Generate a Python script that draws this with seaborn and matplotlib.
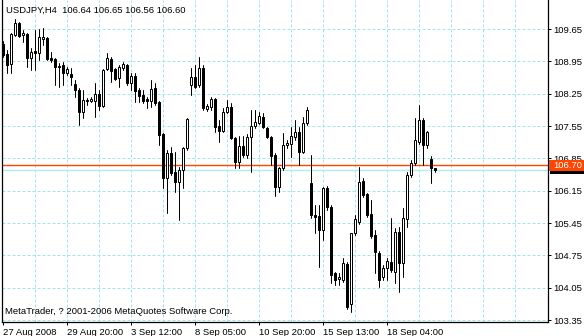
import numpy as np
import pandas as pd
import matplotlib
matplotlib.use("Agg")
import matplotlib.pyplot as plt
import matplotlib.transforms as mtransforms
from matplotlib.patches import Rectangle
import seaborn as sns

# ---- data (USDJPY, H4) ----
opens = [109.33, 109.11, 108.89, 109.52, 109.78, 109.52, 109.54, 109.02, 109.17, 109.13,
         109.43, 109.46, 109.02, 109.00, 108.85, 108.87, 108.70, 108.68, 108.46, 108.33,
         107.86, 108.11, 108.09, 108.09, 108.24, 107.98, 108.78, 109.00, 108.78, 108.59,
         108.81, 108.87, 108.48, 108.63, 108.33, 108.22, 108.13, 108.09, 108.37, 108.07,
         107.38, 106.42, 106.96, 106.55, 106.34, 106.60, 107.07, 108.44, 108.61, 108.44,
         108.81, 107.92, 107.96, 108.13, 107.55, 107.44, 107.86, 107.96, 107.29, 106.77,
         107.12, 106.92, 107.31, 107.55, 107.62, 107.75, 107.51, 107.31, 106.92, 106.23,
         106.64, 107.14, 107.16, 107.31, 107.42, 106.99, 107.62, 106.32, 105.62, 105.60,
         105.30, 106.21, 105.80, 104.37, 104.24, 104.22, 104.56, 103.70, 105.23, 105.47,
         106.36, 106.08, 105.65, 105.19, 104.80, 104.28, 104.48, 104.60, 104.39, 105.25,
         104.58, 105.54, 106.49, 106.75, 107.20, 107.68, 107.14, 106.84, 106.64]
highs = [109.39, 109.20, 109.56, 109.87, 109.80, 109.63, 109.56, 109.24, 109.63, 109.65,
         109.67, 109.48, 109.15, 109.02, 108.91, 108.94, 108.83, 108.81, 108.55, 108.37,
         108.33, 108.16, 108.18, 108.48, 108.33, 108.78, 109.13, 109.04, 108.81, 108.87,
         108.94, 108.89, 108.70, 108.70, 108.37, 108.33, 108.18, 108.55, 108.48, 108.09,
         107.40, 107.03, 107.09, 106.99, 106.66, 107.09, 107.72, 108.81, 108.87, 109.04,
         108.87, 108.03, 108.18, 108.16, 107.68, 107.94, 108.11, 108.05, 107.31, 107.33,
         107.33, 107.38, 107.90, 107.90, 107.86, 107.83, 107.53, 107.33, 106.96, 106.66,
         107.40, 107.25, 107.53, 107.68, 107.53, 107.75, 107.96, 106.92, 105.84, 105.84,
         106.23, 106.25, 105.84, 104.39, 104.37, 104.69, 104.60, 105.23, 105.62, 106.66,
         106.42, 106.10, 105.95, 105.30, 104.84, 104.54, 104.69, 105.56, 105.34, 105.36,
         105.77, 106.55, 106.81, 107.72, 108.00, 107.72, 107.44, 106.90, 106.65]
lows = [109.04, 108.70, 108.70, 109.50, 109.47, 109.37, 108.83, 108.76, 108.76, 108.98,
        109.30, 108.98, 108.94, 108.44, 108.40, 108.44, 108.65, 108.44, 108.18, 107.57,
        107.72, 108.00, 108.07, 107.75, 107.90, 107.96, 108.76, 108.50, 108.55, 108.40,
        108.76, 108.44, 108.33, 108.07, 108.07, 108.05, 107.94, 107.96, 108.00, 107.14,
        106.21, 105.67, 106.49, 106.12, 105.51, 106.21, 107.03, 108.22, 108.37, 108.40,
        107.90, 107.87, 107.90, 107.42, 107.20, 107.42, 107.83, 107.27, 106.64, 106.64,
        106.88, 106.86, 106.55, 107.51, 107.59, 107.51, 107.29, 106.71, 106.03, 106.12,
        106.60, 107.07, 106.88, 107.25, 106.71, 106.96, 107.57, 105.56, 105.23, 104.50,
        105.08, 105.73, 104.15, 104.11, 104.11, 104.17, 103.59, 103.52, 105.19, 105.43,
        106.01, 105.58, 105.13, 104.37, 104.07, 104.22, 104.22, 104.39, 104.15, 103.96,
        104.28, 105.36, 106.45, 106.71, 107.16, 106.71, 107.07, 106.32, 106.56]
closes = [109.09, 108.87, 109.54, 109.78, 109.50, 109.56, 109.02, 109.15, 109.13, 109.48,
          109.48, 109.00, 108.98, 108.83, 108.83, 108.70, 108.78, 108.61, 108.33, 107.86,
          108.11, 108.09, 108.13, 108.24, 107.98, 108.76, 109.02, 108.74, 108.57, 108.83,
          108.89, 108.48, 108.63, 108.31, 108.20, 108.09, 108.09, 108.35, 108.05, 107.35,
          106.42, 106.96, 106.53, 106.34, 106.60, 107.07, 107.70, 108.61, 108.40, 108.81,
          107.94, 107.98, 108.13, 107.53, 107.44, 107.86, 107.96, 107.29, 106.77, 107.12,
          106.92, 107.31, 107.55, 107.64, 107.77, 107.53, 107.31, 106.90, 106.23, 106.64,
          107.14, 107.18, 107.33, 107.42, 106.99, 107.62, 107.90, 105.62, 105.58, 105.30,
          106.21, 105.80, 104.32, 104.22, 104.28, 104.58, 103.63, 105.23, 105.54, 106.34,
          106.06, 105.62, 105.17, 104.82, 104.22, 104.48, 104.63, 104.43, 105.25, 104.58,
          105.56, 106.49, 106.75, 107.25, 107.68, 107.14, 107.42, 106.64, 106.60]

x_label_bars = [0, 16, 32, 48, 64, 80, 96]
x_labels = ["27 Aug 2008", "29 Aug 20:00", "3 Sep 12:00", "8 Sep 05:00",
            "10 Sep 20:00", "15 Sep 13:00", "18 Sep 04:00"]
x_grid_bars = list(range(8, 136, 8))
y_ticks = [109.65, 108.95, 108.25, 107.55, 106.85, 106.15, 105.45, 104.75, 104.05, 103.35]
hline_price = 106.70
bid_price = 106.60
title_text = "USDJPY,H4  106.64 106.65 106.56 106.60"
copyright_text = "MetaTrader, ? 2001-2006 MetaQuotes Software Corp."

# ---- style ----
sns.set_theme(style="white")
plt.rcParams["font.family"] = ["Liberation Sans", "DejaVu Sans"]
FS = 6.8
GRID = "#A4E6E6"
PX = 0.72  # one pixel in points

W, H = 584, 336
fig = plt.figure(figsize=(W / 100, H / 100), dpi=100)
fig.patch.set_facecolor("white")
ax = fig.add_axes([2 / W, 14 / H, 546 / W, 322 / H])
ax.set_facecolor("white")

n = len(opens)
bars = np.arange(n)
o = np.array(opens)
c = np.array(closes)

# grid
for gx in x_grid_bars:
    ax.axvline(gx, color=GRID, lw=PX, ls=(0, (3, 2)), zorder=0.5)
for gy in y_ticks:
    ax.axhline(gy, color=GRID, lw=PX, ls=(0, (3, 2)), zorder=0.5)

# horizontal lines
ax.axhline(bid_price, color="#AFEFEF", lw=1.0, zorder=1)
ax.axhline(hline_price, color="#FF4500", lw=1.0, zorder=1.1)

# wicks
wick_df = pd.DataFrame({"bar": np.repeat(bars, 2),
                        "price": np.column_stack([lows, highs]).ravel()})
sns.lineplot(data=wick_df, x="bar", y="price", units="bar", estimator=None,
             color="black", linewidth=PX, ax=ax, legend=False, sort=False, zorder=2)

# bodies
bull = c >= o
bottoms = np.minimum(o, c)
heights = np.maximum(np.abs(c - o), 0.004)
ax.bar(bars, heights, bottom=bottoms, width=0.5,
       color=np.where(bull, "white", "black"), edgecolor="black",
       linewidth=PX, zorder=3)

ax.set_xlim(-0.325, 136.175)
ax.set_ylim(103.307, 110.278)
ax.set_xlabel("")
ax.set_ylabel("")

for side in ["left", "bottom", "right"]:
    ax.spines[side].set_visible(True)
    ax.spines[side].set_color("black")
    ax.spines[side].set_linewidth(0.9)
ax.spines["top"].set_visible(False)

ax.yaxis.tick_right()
ax.set_yticks(y_ticks)
ax.set_yticklabels([f"{v:.2f}" for v in y_ticks])
ax.tick_params(axis="y", which="major", direction="out", length=2.5, width=PX,
               pad=1.5, labelsize=FS, colors="black", right=True, left=False)
ax.set_xticks(x_label_bars)
ax.set_xticklabels(x_labels)
for lab in ax.get_xticklabels():
    lab.set_ha("left")
ax.tick_params(axis="x", which="major", direction="out", length=2.5, width=PX,
               pad=1.5, labelsize=FS, colors="black", bottom=True)
ax.grid(False)

# texts
fig.text(6 / W, 1 - 10.5 / H, title_text, fontsize=FS, ha="left", va="center", color="black")
fig.text(5 / W, 1 - 311.5 / H, copyright_text, fontsize=FS, ha="left", va="center", color="black")

# price label boxes on right axis (the bid label sits mostly under the line label)
blend = mtransforms.blended_transform_factory(fig.transFigure, ax.transData)
box_h = 11 * 0.02165
bid_center = bid_price + 0.03
fig.patches.append(Rectangle((550 / W, bid_center - box_h / 2), 34 / W, box_h,
                             transform=blend, facecolor="black", edgecolor="none", zorder=1))
fig.text(553 / W, bid_center, f"{bid_price:.2f}", transform=blend, fontsize=FS,
         color="white", ha="left", va="center", zorder=1.5)
fig.patches.append(Rectangle((549 / W, hline_price - box_h / 2), 35 / W, box_h,
                             transform=blend, facecolor="#FF4500", edgecolor="none", zorder=2))
fig.text(553 / W, hline_price, f"{hline_price:.2f}", transform=blend, fontsize=FS,
         color="white", ha="left", va="center", zorder=3)

fig.savefig("out.png", dpi=100, facecolor="white")
